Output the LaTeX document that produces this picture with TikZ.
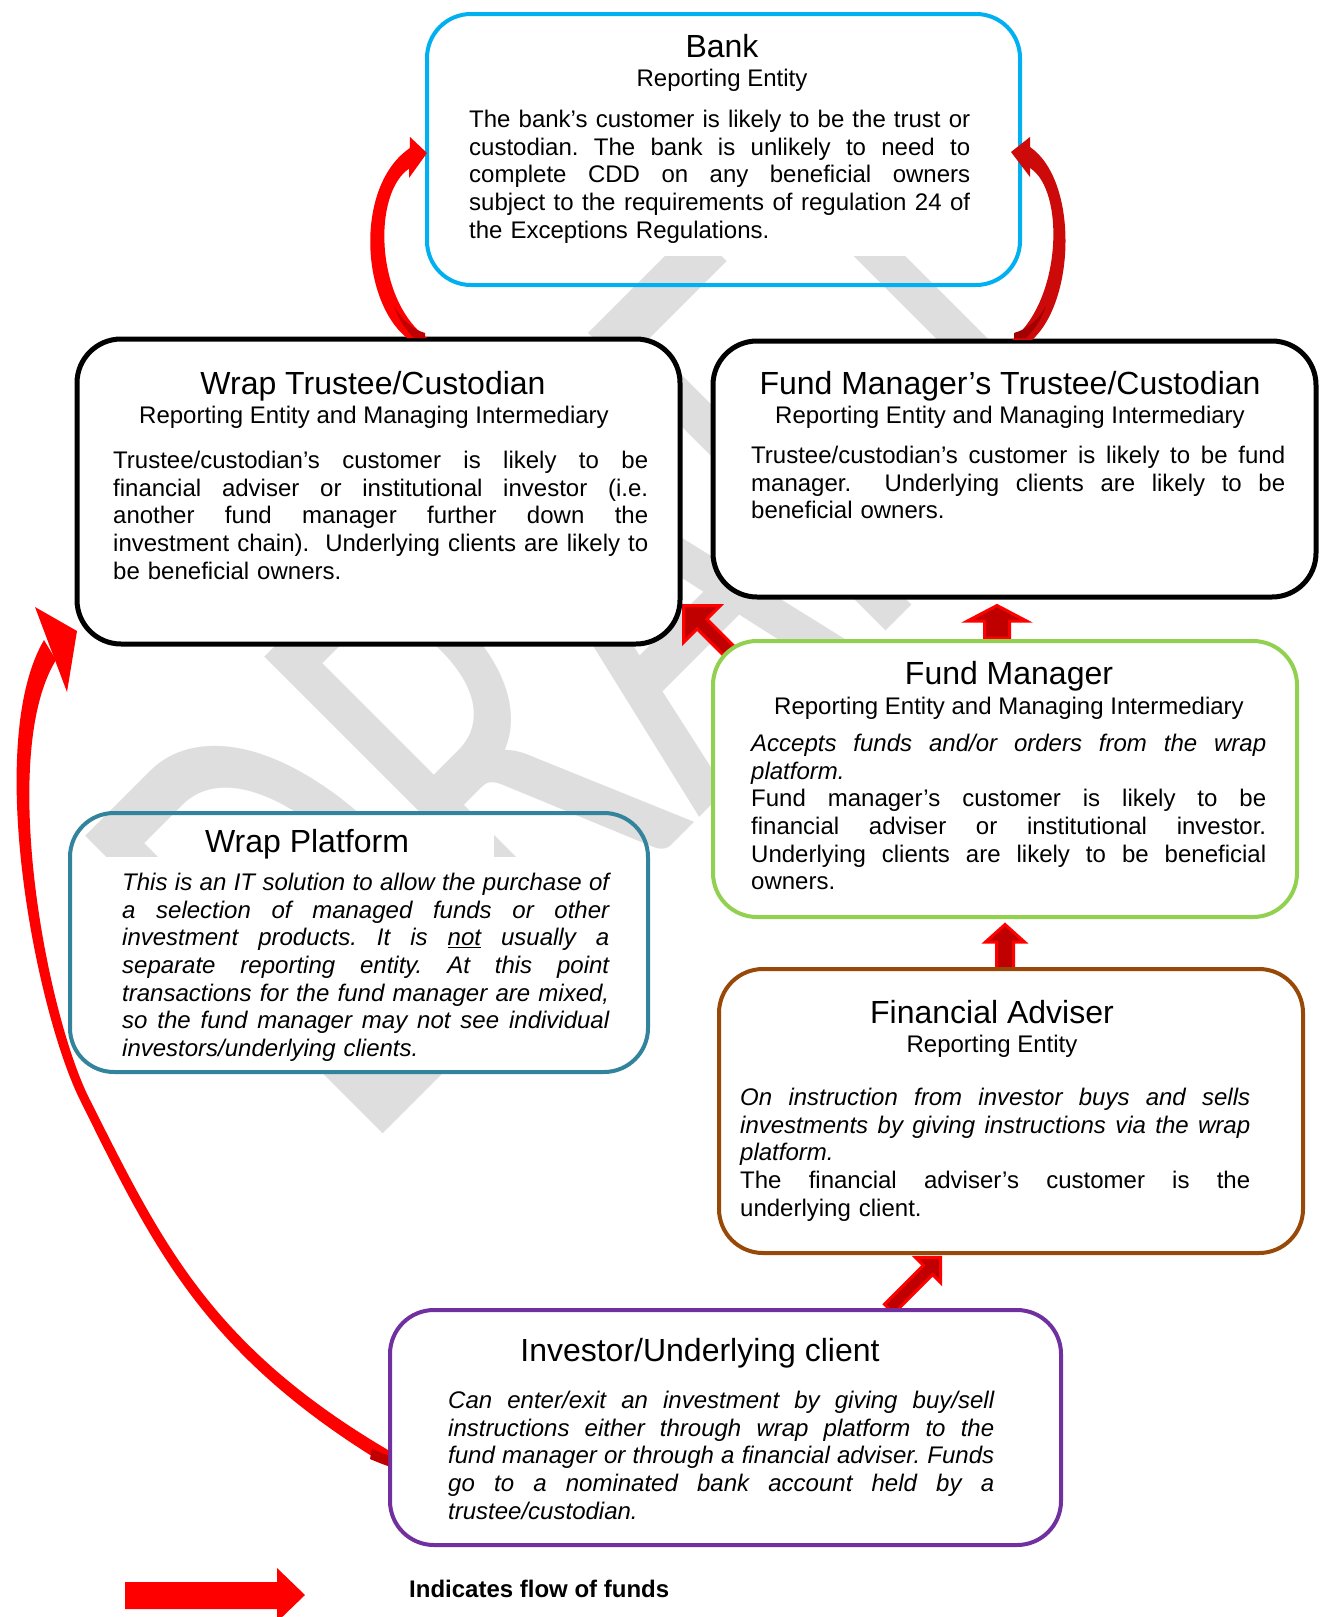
\documentclass[tikz,border=0pt]{standalone}
\usepackage{fontspec}
\setmainfont{Liberation Sans}
\newfontfamily\wmfont{Carlito}
\definecolor{bankc}{HTML}{00B0F0}
\definecolor{fmc}{HTML}{92D050}
\definecolor{fac}{HTML}{984807}
\definecolor{wpc}{HTML}{31849B}
\definecolor{invc}{HTML}{7030A0}
\definecolor{wmc}{HTML}{DEDEDE}
\definecolor{arrred}{HTML}{FF0000}
\definecolor{arrdark}{HTML}{C00000}
\definecolor{brdark}{HTML}{CC0A0A}
\newcommand{\jl}[1]{\makebox[\hsize][s]{\frenchspacing\spaceskip=0pt #1}\\}
\begin{document}
\begin{tikzpicture}[x=1pt,y=-1pt,
  box/.style={draw, line width=4pt, rounded corners=44pt, fill=white, inner sep=0pt},
  blackbox/.style={box, line width=5pt},
  ttl/.style={font=\fontsize{32}{36}\selectfont, inner sep=0pt, anchor=base},
  subt/.style={font=\fontsize{24}{27.6}\selectfont, inner sep=0pt, anchor=base},
  bodyt/.style={font=\fontsize{24}{27.6}\selectfont\frenchspacing, inner sep=0pt, anchor=base west},
  blk/.style={fill=arrdark, draw=arrred, line width=3pt, line join=miter},
]
\useasboundingbox (0,0) rectangle (1323,1617);
\fill[white] (0,0) rectangle (1323,1617);

% watermark
\node[rotate=45, yscale=1.6, anchor=base west, inner sep=0pt, text=wmc,
      font=\wmfont\fontsize{410}{410}\selectfont] (wm) at (363,1154) {DRAFT};

% block arrows (behind boxes)
\draw[blk] (984.5,638) -- (984.5,621) -- (967.5,621) -- (997,605.5) -- (1026.5,621) -- (1009.5,621) -- (1009.5,638) -- cycle;
\draw[blk] (996.5,972) -- (996.5,942) -- (985.5,942) -- (1005,924.5) -- (1024.5,942) -- (1013.5,942) -- (1013.5,972) -- cycle;
\draw[blk] (742.3,654.5) -- (706.9,619.1) -- (720.4,605.6) -- (683.6,605.6) -- (683.6,642.4) -- (697.1,628.9) -- (732.5,664.3) -- cycle;
\draw[blk] (884.5,1304.3) -- (923.4,1265.4) -- (915.3,1257.3) -- (940.7,1257.3) -- (940.7,1282.7) -- (932.6,1274.6) -- (893.7,1313.5) -- cycle;

% bank: transparent near its bottom edge
\begin{scope}
  \clip (400,0) rectangle (1050,255);
  \fill[white, rounded corners=44pt] (427,14) rectangle (1020,285);
\end{scope}
\node[box, fill=none, draw=bankc, minimum width=593pt, minimum height=271pt] (bank) at (723.5,149.5) {};
% other boxes
\node[blackbox, draw=black, minimum width=603pt, minimum height=305pt] (wtc) at (378.5,491.5) {};
\node[blackbox, draw=black, minimum width=603pt, minimum height=256pt] (fmtc) at (1014.5,469) {};
\node[box, draw=fmc, minimum width=584pt, minimum height=276pt] (fm) at (1005,779) {};
\node[box, draw=fac, minimum width=584pt, minimum height=284pt] (fa) at (1011,1111) {};
\node[box, draw=invc, minimum width=671pt, minimum height=235pt] (inv) at (725.5,1427.5) {};
% wrap platform: transparent box with white text areas
\fill[white] (185,815) rectangle (494,857);
\begin{scope}
  \clip (60,857) rectangle (660,1080);
  \fill[white, rounded corners=44pt] (70,813) rectangle (648,1072);
\end{scope}
\node[box, fill=none, draw=wpc, minimum width=578pt, minimum height=259pt] (wp) at (359,942.5) {};

% texts
\node[ttl] (bankT) at (722,57.5) {Bank};
\node[subt] (bankS) at (722,86.6) {Reporting Entity};
\node[bodyt, text width=501pt] (bankB) at (469,127.6) {%
\jl{The bank’s customer is likely to be the trust or}%
\jl{custodian. The bank is unlikely to need to}%
\jl{complete CDD on any beneficial owners}%
\jl{subject to the requirements of regulation 24 of}%
the Exceptions Regulations.};

\node[ttl] (wtcT) at (373,394.5) {Wrap Trustee/Custodian};
\node[subt] (wtcS) at (374,423.6) {Reporting Entity and Managing Intermediary};
\node[bodyt, text width=535pt] (wtcB) at (113,468.6) {%
\jl{Trustee/custodian’s customer is likely to be}%
\jl{financial adviser or institutional investor (i.e.}%
\jl{another fund manager further down the}%
\jl{investment chain).\ \ Underlying clients are likely to}%
be beneficial owners.};

\node[ttl] (fmtcT) at (1010,394.5) {Fund Manager’s Trustee/Custodian};
\node[subt] (fmtcS) at (1010,423.6) {Reporting Entity and Managing Intermediary};
\node[bodyt, text width=534pt] (fmtcB) at (751,463.6) {%
\jl{Trustee/custodian’s customer is likely to be fund}%
\jl{manager.\ \ Underlying clients are likely to be}%
beneficial owners.};

\node[ttl] (fmT) at (1009,684.5) {Fund Manager};
\node[subt] (fmS) at (1009,714.6) {Reporting Entity and Managing Intermediary};
\node[bodyt, text width=515pt] (fmB) at (751,751.6) {%
\jl{\itshape Accepts funds and/or orders from the wrap}%
{\itshape platform.}\\
\jl{Fund manager’s customer is likely to be}%
\jl{financial adviser or institutional investor.}%
\jl{Underlying clients are likely to be beneficial}%
owners.};

\node[ttl] (faT) at (992,1023.5) {Financial Adviser};
\node[subt] (faS) at (992,1052.6) {Reporting Entity};
\node[bodyt, text width=510pt] (faB) at (740,1105.6) {%
\jl{\itshape On instruction from investor buys and sells}%
\jl{\itshape investments by giving instructions via the wrap}%
{\itshape platform.}\\
\jl{The financial adviser’s customer is the}%
underlying client.};

\node[ttl] (wpT) at (307,852.5) {Wrap Platform};
\node[bodyt, text width=487pt, font=\fontsize{24}{27.6}\selectfont\itshape\frenchspacing] (wpB) at (122,890.6) {%
\jl{This is an IT solution to allow the purchase of}%
\jl{a selection of managed funds or other}%
\jl{investment products. It is \underline{not} usually a}%
\jl{separate reporting entity. At this point}%
\jl{transactions for the fund manager are mixed,}%
\jl{so the fund manager may not see individual}%
investors/underlying clients.};

\node[ttl] (invT) at (700,1361.5) {Investor/Underlying client};
\node[bodyt, text width=546pt, font=\fontsize{24}{27.6}\selectfont\itshape\frenchspacing] (invB) at (448,1408.6) {%
\jl{Can enter/exit an investment by giving buy/sell}%
\jl{instructions either through wrap platform to the}%
\jl{fund manager or through a financial adviser. Funds}%
\jl{go to a nominated bank account held by a}%
trustee/custodian.};

% curved arrows
\fill[arrred] (407,338) .. controls (360,300) and (355,185) .. (410,148) -- (410,168) .. controls (372,192) and (375,300) .. (427,338) -- cycle;
\fill[arrred] (427,153) -- (410,137) -- (409,178) -- cycle;
\fill[arrdark] (394,306) .. controls (402,320) and (412,329) .. (425,333) -- (425,338) -- (414,338) .. controls (404,328) and (398,318) .. cycle;

\fill[brdark] (1012,340) .. controls (1062,300) and (1065,190) .. (1030,168) -- (1030,147) .. controls (1078,180) and (1076,300) .. (1032,340) -- cycle;
\fill[brdark] (1011,152) -- (1030,137) -- (1030,177) -- cycle;
\fill[arrdark!85!black] (1046,306) .. controls (1038,320) and (1028,329) .. (1014,333) -- (1014,338) -- (1026,338) .. controls (1036,328) and (1042,318) .. cycle;

\fill[arrred] (388,1466) .. controls (203.1,1354.8) and (152,1245.2) .. (81,1102)
   .. controls (36.2,1013.7) and (-16.8,744) .. (44,640)
   -- (56,660) .. controls (-1.4,753.2) and (45.2,1009.3) .. (89,1098)
   .. controls (161,1240.8) and (209.3,1344.6) .. (388,1450) -- cycle;
\fill[arrred] (35,607) -- (77,631) -- (67,692) -- cycle;
\fill[arrdark] (372,1448) .. controls (378,1452) and (383,1454) .. (388,1455) -- (388,1466) .. controls (382,1464) and (377,1462) .. (370,1459) -- cycle;

% legend
\fill[arrred] (125,1582) -- (277,1582) -- (277,1568) -- (305,1595) -- (277,1622) -- (277,1609) -- (125,1609) -- cycle;
\node[font=\bfseries\fontsize{24}{27.6}\selectfont, anchor=base west, inner sep=0pt] (leg) at (409,1597) {Indicates flow of funds};
\end{tikzpicture}
\end{document}
